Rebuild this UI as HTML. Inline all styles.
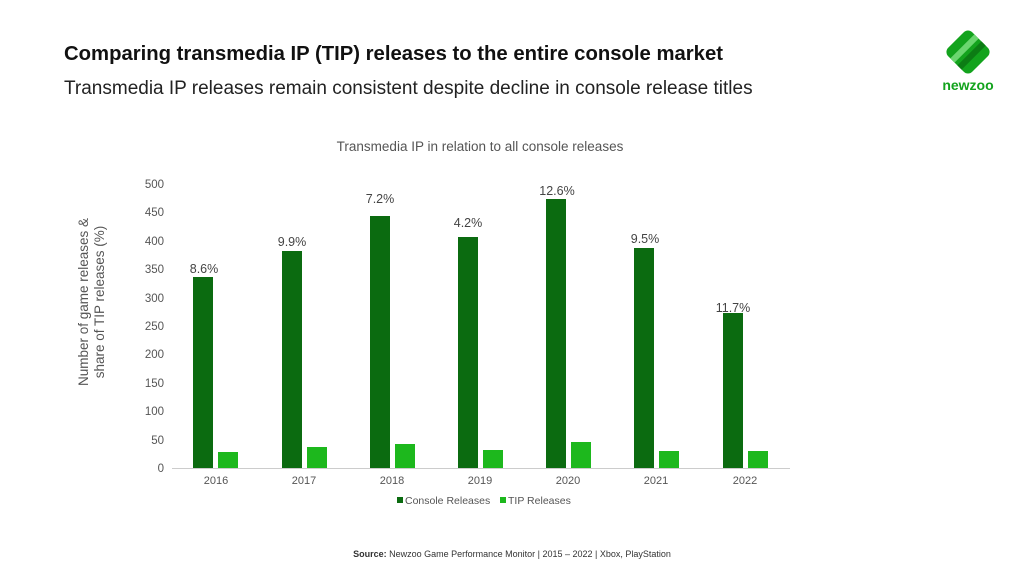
<!DOCTYPE html>
<html><head><meta charset="utf-8"><style>
body{margin:0;width:1024px;height:576px;background:#fff;font-family:"Liberation Sans",sans-serif;position:relative;overflow:hidden}
.t{position:absolute;white-space:nowrap}
</style></head><body>
<div class="t" style="left:64px;top:43px;font-size:20.3px;font-weight:bold;color:#111">Comparing transmedia IP (TIP) releases to the entire console market</div>
<div class="t" style="left:64px;top:78px;font-size:19px;color:#222">Transmedia IP releases remain consistent despite decline in console release titles</div>
<svg style="position:absolute;left:0;top:0" width="1024" height="576">
<g transform="translate(968,52) rotate(45)">
<rect x="-17" y="-17" width="34" height="34" rx="6" fill="#13a31d"/>
<rect x="-8" y="-17" width="6" height="34" fill="#6bd66f"/>
<rect x="2" y="-17" width="6" height="34" fill="#0c7c14"/>
</g>
<text x="968" y="90" font-size="14" font-weight="bold" fill="#13a31d" text-anchor="middle" font-family="Liberation Sans">newzoo</text>
<text x="480" y="151" font-size="13.5" fill="#555" text-anchor="middle" font-family="Liberation Sans">Transmedia IP in relation to all console releases</text>
<g font-family="Liberation Sans" font-size="11.5" fill="#555" text-anchor="end">
<text x="164" y="188">500</text><text x="164" y="216">450</text><text x="164" y="245">400</text><text x="164" y="273">350</text><text x="164" y="302">300</text><text x="164" y="330">250</text><text x="164" y="358">200</text><text x="164" y="387">150</text><text x="164" y="415">100</text><text x="164" y="444">50</text><text x="164" y="472">0</text>
</g>
<line x1="172" y1="468.5" x2="790" y2="468.5" stroke="#ccc"/>
<text transform="translate(96,302) rotate(-90)" font-size="13.5" fill="#555" text-anchor="middle" font-family="Liberation Sans"><tspan x="0" y="-8">Number of game releases &amp;</tspan><tspan x="0" y="8">share of TIP releases (%)</tspan></text>
<g fill="#0b6b10">
<rect x="193" y="277" width="20" height="191"/>
<rect x="282" y="251" width="20" height="217"/>
<rect x="370" y="216" width="20" height="252"/>
<rect x="458" y="237" width="20" height="231"/>
<rect x="546" y="199" width="20" height="269"/>
<rect x="634" y="248" width="20" height="220"/>
<rect x="723" y="313" width="20" height="155"/>
</g>
<g fill="#1db81d">
<rect x="218" y="452" width="20" height="16"/>
<rect x="307" y="447" width="20" height="21"/>
<rect x="395" y="444" width="20" height="24"/>
<rect x="483" y="450" width="20" height="18"/>
<rect x="571" y="442" width="20" height="26"/>
<rect x="659" y="451" width="20" height="17"/>
<rect x="748" y="451" width="20" height="17"/>
</g>
<g font-family="Liberation Sans" font-size="12.5" fill="#444" text-anchor="middle">
<text x="204" y="273">8.6%</text><text x="292" y="246">9.9%</text><text x="380" y="203">7.2%</text><text x="468" y="227">4.2%</text><text x="557" y="195">12.6%</text><text x="645" y="243">9.5%</text><text x="733" y="312">11.7%</text>
</g>
<g font-family="Liberation Sans" font-size="11" fill="#555" text-anchor="middle">
<text x="216" y="484">2016</text><text x="304" y="484">2017</text><text x="392" y="484">2018</text><text x="480" y="484">2019</text><text x="568" y="484">2020</text><text x="656" y="484">2021</text><text x="745" y="484">2022</text>
</g>
<rect x="397" y="497" width="6" height="6" fill="#0b6b10"/>
<text x="405" y="504" font-size="10.5" fill="#555" font-family="Liberation Sans">Console Releases</text>
<rect x="500" y="497" width="6" height="6" fill="#1db81d"/>
<text x="508" y="504" font-size="10.5" fill="#555" font-family="Liberation Sans">TIP Releases</text>
<text x="512" y="557" font-size="9" fill="#333" text-anchor="middle" font-family="Liberation Sans"><tspan font-weight="bold">Source:</tspan> Newzoo Game Performance Monitor | 2015 – 2022 | Xbox, PlayStation</text>
</svg>
</body></html>
